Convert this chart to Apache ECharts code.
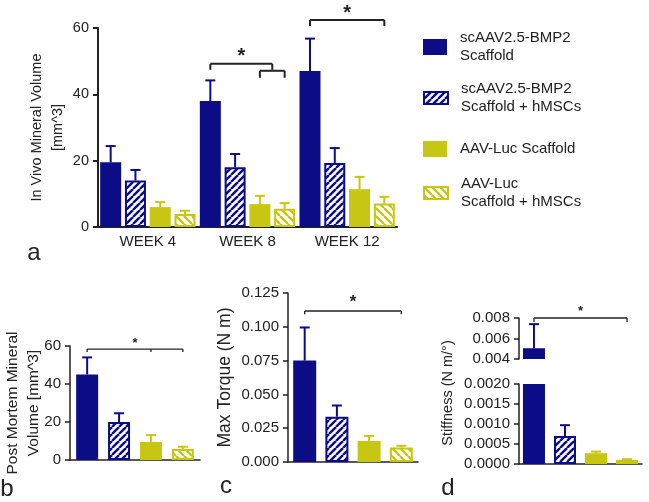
<!DOCTYPE html>
<html>
<head>
<meta charset="utf-8">
<script src="https://cdn.jsdelivr.net/npm/echarts@6/dist/echarts.min.js"></script>
<style>
  html, body { margin: 0; background: #fff; }
  #chart { width: 649px; height: 502px; }
</style>
</head>
<body>
<div id="chart"></div>
<script>
// groups, same order in every panel
var groups = ['scAAV2.5-BMP2 Scaffold', 'scAAV2.5-BMP2 Scaffold + hMSCs', 'AAV-Luc Scaffold', 'AAV-Luc Scaffold + hMSCs'];
var weeks = ['WEEK 4', 'WEEK 8', 'WEEK 12'];

// a: in vivo mineral volume [mm^3], one row per group (week 4, 8, 12)
var vivoMean = [
  [19.5, 38, 47],
  [14, 18, 19.3],
  [6, 6.9, 11.4],
  [3.9, 5.5, 7.1]
];
var vivoErr = [
  [4.9, 6.2, 9.8],
  [3.2, 4, 4.5],
  [1.5, 2.5, 3.7],
  [1, 1.7, 2]
];
// b: post mortem mineral volume
var pmMean = [45, 20, 9.5, 5.8];
var pmErr = [9, 4.6, 3.6, 1.2];
// c: max torque (N m)
var torqueMean = [0.075, 0.0335, 0.0156, 0.0108];
var torqueErr = [0.0245, 0.0083, 0.0036, 0.0012];
// d: stiffness (N m/deg), broken axis
var stiffMean = [0.00505, 0.0007, 0.00027, 0.0001];
var stiffErr = [0.00235, 0.00027, 0.00004, 0.00002];

// significance brackets (ticks = bar positions in the group)
var bracketsA = [
  {cat: 1, ticks: [0, 2.5], y: 49.2, drop: 1.8, star: 51.5},
  {cat: 1, ticks: [2, 3], y: 47.1, drop: 2.1},
  {cat: 2, ticks: [0, 3], y: 62.4, drop: 1.8, star: 64.4}
];
var bracketsB = [{cat: 0, ticks: [0, 2, 3], y: 58.4, drop: 1.6, star: 61.1}];
var bracketsC = [{cat: 0, ticks: [0, 3], y: 0.1117, drop: 0.0025, star: 0.118}];
var bracketsD = [{cat: 0, ticks: [0, 3], y: 0.008, drop: 0.0004, star: 0.00868}];

var legendText = {
  'scAAV2.5-BMP2 Scaffold': 'scAAV2.5-BMP2\nScaffold',
  'scAAV2.5-BMP2 Scaffold + hMSCs': 'scAAV2.5-BMP2\nScaffold + hMSCs',
  'AAV-Luc Scaffold': 'AAV-Luc Scaffold',
  'AAV-Luc Scaffold + hMSCs': 'AAV-Luc\nScaffold + hMSCs'
};

var FONT = 'Liberation Sans, Arial, sans-serif';
var INK = '#222';
var BLUE = '#0c0c87', YEL = '#c6c613';
var lineColors = [BLUE, BLUE, YEL, YEL];

function hatch(color, dir, s) {
  var c = document.createElement('canvas');
  c.width = s; c.height = s;
  var g = c.getContext('2d');
  g.fillStyle = '#fff';
  g.fillRect(0, 0, s, s);
  g.strokeStyle = color;
  g.lineWidth = 2.4;
  for (var k = -1; k <= 1; k++) {
    g.beginPath();
    if (dir > 0) { g.moveTo(k * s, s); g.lineTo(k * s + s, 0); }
    else { g.moveTo(k * s, 0); g.lineTo(k * s + s, s); }
    g.stroke();
  }
  return {image: c, repeat: 'repeat'};
}
var fills = [BLUE, hatch(BLUE, 1, 7), YEL, hatch(YEL, -1, 8)];

function itemStyle(i) {
  if (i % 2 === 0) return {color: fills[i]};
  return {color: fills[i], borderColor: lineColors[i], borderWidth: 2};
}

// bar layout per panel: width and gap (fraction of width)
var layA = {bw: 21, gap: 0.18}, layB = {bw: 22, gap: 0.45}, layC = {bw: 23, gap: 0.40}, layD = {bw: 22, gap: 0.41};
function barX(cx, lay, t) { return cx + (t - 1.5) * lay.bw * (1 + lay.gap); }

function errorSeries(ax, lay, items) {
  return {
    type: 'custom', xAxisIndex: ax, yAxisIndex: ax, z: 5, silent: true,
    encode: {x: 0, y: 2},
    data: items,
    renderItem: function (params, api) {
      var cat = api.value(0), i = api.value(1), m = api.value(2), e = api.value(3);
      var p0 = api.coord([cat, m]), p1 = api.coord([cat, m + e]);
      var x = barX(p0[0], lay, i), col = lineColors[i];
      return {type: 'group', children: [
        {type: 'line', shape: {x1: x, y1: p0[1], x2: x, y2: p1[1]}, style: {stroke: col, lineWidth: 2}},
        {type: 'line', shape: {x1: x - 5, y1: p1[1], x2: x + 5, y2: p1[1]}, style: {stroke: col, lineWidth: 2}}
      ]};
    }
  };
}

function bracketSeries(ax, lay, list, lw, starSize) {
  return {
    type: 'custom', xAxisIndex: ax, yAxisIndex: ax, z: 6, silent: true,
    encode: {x: 0, y: 1},
    data: list.map(function (b) { return [b.cat, b.y]; }),
    renderItem: function (params, api) {
      var b = list[params.dataIndex];
      var p = api.coord([b.cat, b.y]);
      var yd = api.coord([b.cat, b.y - b.drop])[1];
      var xs = b.ticks.map(function (t) { return barX(p[0], lay, t); });
      var x1 = Math.min.apply(null, xs), x2 = Math.max.apply(null, xs);
      var kids = [{type: 'line', shape: {x1: x1, y1: p[1], x2: x2, y2: p[1]}, style: {stroke: INK, lineWidth: lw}}];
      xs.forEach(function (x) {
        kids.push({type: 'line', shape: {x1: x, y1: p[1], x2: x, y2: yd}, style: {stroke: INK, lineWidth: lw}});
      });
      if (b.star != null) {
        var ys = api.coord([b.cat, b.star])[1];
        kids.push({type: 'text', x: (x1 + x2) / 2, y: ys, style: {
          text: '*', fill: INK, font: 'bold ' + starSize + 'px ' + FONT,
          align: 'center', verticalAlign: 'middle'
        }});
      }
      return {type: 'group', children: kids};
    }
  };
}

function catAxis(grid, data, showLine, lw) {
  return {
    type: 'category', gridIndex: grid, data: data,
    axisLine: {show: showLine, lineStyle: {color: INK, width: lw}},
    axisTick: {show: false},
    axisLabel: {show: grid === 0, color: INK, fontSize: 15, fontFamily: FONT, margin: 7},
    splitLine: {show: false}
  };
}

function valAxis(grid, min, max, interval, digits, fs, lw, name, nameSize, nameGap) {
  return {
    type: 'value', gridIndex: grid, min: min, max: max, interval: interval,
    axisLine: {show: true, lineStyle: {color: INK, width: lw}},
    axisTick: {show: true, length: 5, lineStyle: {color: INK, width: lw}},
    axisLabel: {color: INK, fontSize: fs, fontFamily: FONT, margin: 9,
      formatter: function (v) { return v.toFixed(digits); }},
    splitLine: {show: false},
    name: name, nameLocation: 'middle', nameRotate: 90, nameGap: nameGap,
    nameMoveOverlap: false,
    nameTextStyle: {color: INK, fontSize: nameSize, fontFamily: FONT, lineHeight: 21}
  };
}

var series = [];
groups.forEach(function (g, i) {
  series.push({type: 'bar', name: g, xAxisIndex: 0, yAxisIndex: 0, data: vivoMean[i],
    barWidth: layA.bw, barGap: (layA.gap * 100) + '%', itemStyle: itemStyle(i)});
  series.push({type: 'bar', name: g, xAxisIndex: 1, yAxisIndex: 1, data: [pmMean[i]],
    barWidth: layB.bw, barGap: (layB.gap * 100) + '%', itemStyle: itemStyle(i)});
  series.push({type: 'bar', name: g, xAxisIndex: 2, yAxisIndex: 2, data: [torqueMean[i]],
    barWidth: layC.bw, barGap: (layC.gap * 100) + '%', itemStyle: itemStyle(i)});
  series.push({type: 'bar', name: g, xAxisIndex: 3, yAxisIndex: 3,
    data: [stiffMean[i] > 0.004 ? stiffMean[i] : '-'],
    barWidth: layD.bw, barGap: (layD.gap * 100) + '%', itemStyle: itemStyle(i), clip: true});
  series.push({type: 'bar', name: g, xAxisIndex: 4, yAxisIndex: 4, data: [stiffMean[i]],
    barWidth: layD.bw, barGap: (layD.gap * 100) + '%', itemStyle: itemStyle(i), clip: true});
});

var errA = [], errB = [], errC = [], errDu = [], errDl = [];
groups.forEach(function (g, i) {
  weeks.forEach(function (w, c) { errA.push([c, i, vivoMean[i][c], vivoErr[i][c]]); });
  errB.push([0, i, pmMean[i], pmErr[i]]);
  errC.push([0, i, torqueMean[i], torqueErr[i]]);
  (stiffMean[i] > 0.004 ? errDu : errDl).push([0, i, stiffMean[i], stiffErr[i]]);
});
series.push(errorSeries(0, layA, errA), errorSeries(1, layB, errB), errorSeries(2, layC, errC),
  errorSeries(3, layD, errDu), errorSeries(4, layD, errDl));
series.push(bracketSeries(0, layA, bracketsA, 2, 20), bracketSeries(1, layB, bracketsB, 1.3, 13),
  bracketSeries(2, layC, bracketsC, 1.3, 17), bracketSeries(3, layD, bracketsD, 1.3, 13));

var legendTops = [20, 71, 140, 166];
var legends = groups.map(function (g, i) {
  var two = legendText[g].indexOf('\n') >= 0;
  return {
    data: [g], orient: 'vertical', left: 423, top: legendTops[i], padding: 0,
    icon: 'rect', itemWidth: 24, itemHeight: i % 2 ? 12 : 16,
    selectedMode: false,
    formatter: function (n) { return legendText[n]; },
    textStyle: {color: INK, fontSize: 15, fontFamily: FONT, lineHeight: 18,
      padding: two ? [18, 0, 0, 8] : [0, 0, 0, 8]}
  };
});

var letter = function (t, x, y) {
  return {type: 'text', x: x, y: y, style: {text: t, fill: INK, font: '24px ' + FONT, align: 'center', verticalAlign: 'middle'}};
};

var option = {
  animation: false,
  backgroundColor: '#fff',
  legend: legends,
  grid: [
    {left: 98, top: 28, width: 299, height: 199, outerBoundsMode: 'none'},
    {left: 70, top: 346, width: 130, height: 114, outerBoundsMode: 'none'},
    {left: 288, top: 293, width: 130, height: 169, outerBoundsMode: 'none'},
    {left: 519, top: 318, width: 123, height: 41, outerBoundsMode: 'none'},
    {left: 519, top: 384, width: 123, height: 80, outerBoundsMode: 'none'}
  ],
  xAxis: [
    catAxis(0, weeks, true, 2),
    catAxis(1, ['b'], true, 1.5),
    catAxis(2, ['c'], true, 1.5),
    catAxis(3, ['d'], false, 1.5),
    catAxis(4, ['d'], true, 1.5)
  ],
  yAxis: [
    valAxis(0, 0, 60, 20, 0, 14.5, 2, 'In Vivo Mineral Volume\n[mm^3]', 14.5, 30),
    valAxis(1, 0, 60, 20, 0, 15, 1.5, 'Post Mortem Mineral\nVolume [mm^3]', 15.5, 26),
    valAxis(2, 0, 0.125, 0.025, 3, 15, 1.5, 'Max Torque (N m)', 17.5, 52),
    valAxis(3, 0.004, 0.008, 0.002, 3, 15, 1.5, '', 14, 60),
    valAxis(4, 0, 0.002, 0.0005, 4, 15, 1.5, '', 14, 60)
  ],
  graphic: [
    letter('a', 34, 253),
    letter('b', 7, 489),
    letter('c', 226, 486),
    letter('d', 448, 488),
    {type: 'text', x: 448, y: 393, rotation: Math.PI / 2, style: {
      text: 'Stiffness (N m/°)', fill: INK, font: '14.5px ' + FONT, align: 'center', verticalAlign: 'middle'}}
  ],
  series: series
};

var chart = echarts.init(document.getElementById('chart'), null, {renderer: 'canvas'});
chart.setOption(option);
</script>
</body>
</html>
